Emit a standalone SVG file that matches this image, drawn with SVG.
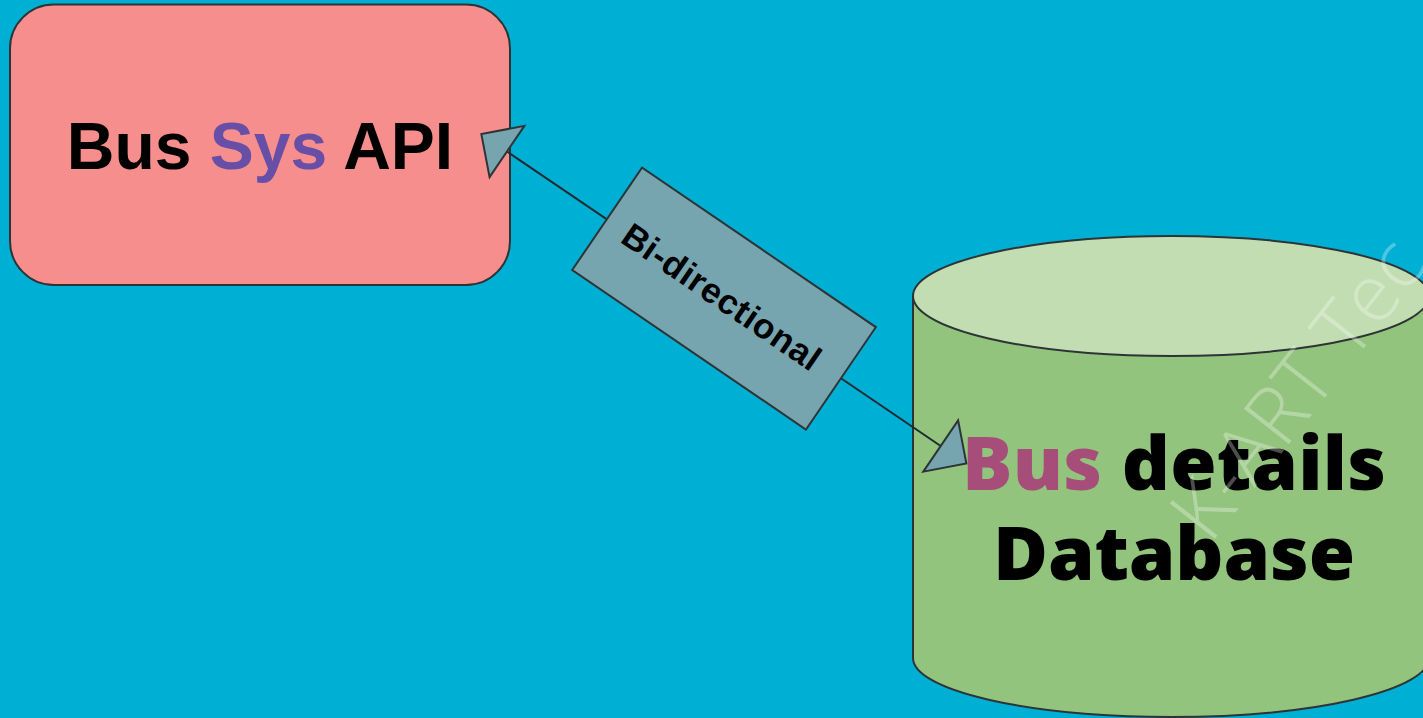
<svg xmlns="http://www.w3.org/2000/svg" width="1423" height="718" viewBox="0 0 1423 718">
  <style>
    .outline { stroke: #2d3436; stroke-width: 2; }
    .sans { font-family: "Liberation Sans", Arial, sans-serif; font-weight: bold; }
    .geo { font-family: "Open Sans", "Liberation Sans", sans-serif; font-weight: 800; }
  </style>
  <defs>
    <marker id="tri" markerUnits="userSpaceOnUse" markerWidth="40" markerHeight="70" refX="0" refY="31" orient="auto-start-reverse" viewBox="-2 -2 40 70">
      <path d="M0,0 L31,31 L0,62 Z" fill="#76A5AF" stroke="#2d3436" stroke-width="2" stroke-linejoin="miter"/>
    </marker>
  </defs>
  <rect width="1423" height="718" fill="#00AFD4"/>

  <g id="bus-sys-api">
    <rect x="10" y="4.5" width="500" height="280.5" rx="44" ry="44" fill="#F68E8E" class="outline"/>
    <text x="260" y="169" class="sans" font-size="66" text-anchor="middle" fill="#000">Bus <tspan fill="#674EA7">Sys</tspan> API</text>
  </g>

  <g id="bus-details-database">
    <path d="M913,296 L913,658 A258,59 0 0 0 1429,658 L1429,296 Z" fill="#93C47D" class="outline"/>
    <ellipse cx="1171" cy="296" rx="258" ry="60" fill="#C2DDB1" class="outline"/>
    <text x="1174" y="490" class="geo" font-size="75" text-anchor="middle" textLength="424" lengthAdjust="spacing" fill="#000"><tspan fill="#A64D79">Bus</tspan> details</text>
    <text x="1174" y="580" class="geo" font-size="75" text-anchor="middle" textLength="362" lengthAdjust="spacing" fill="#000">Database</text>
  </g>

  <g id="connectors">
    <line x1="507" y1="151.5" x2="940.7" y2="446" stroke="#1f2a30" stroke-width="2" marker-start="url(#tri)" marker-end="url(#tri)"/>
    <g id="label-bidirectional" transform="translate(724,298.6) rotate(34.3)">
      <rect x="-141.5" y="-62" width="283" height="124" fill="#76A5AF" class="outline"/>
      <text x="-3" y="12" class="sans" font-size="35" text-anchor="middle" textLength="232" lengthAdjust="spacing" fill="#000">Bi-directional</text>
    </g>
  </g>

  <text x="1210" y="545" transform="rotate(-52 1210 545)" font-family="Open Sans, Liberation Sans, sans-serif" font-weight="300" font-size="80" fill="#ffffff" fill-opacity="0.3">K-ART Tec</text>
</svg>
